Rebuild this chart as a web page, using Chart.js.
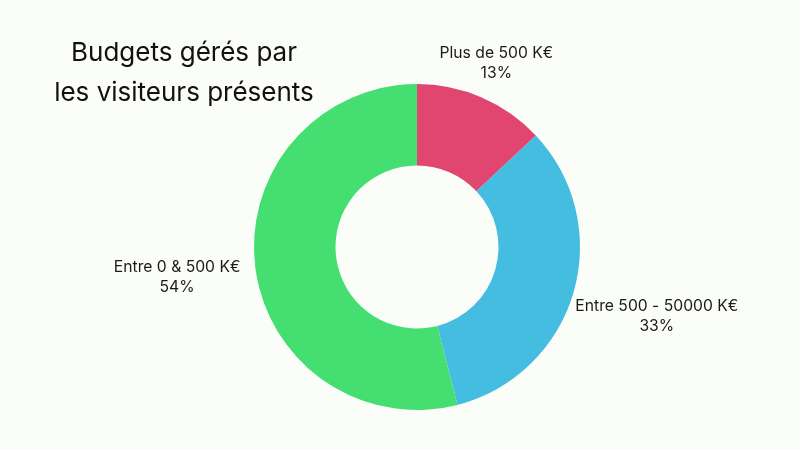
<!DOCTYPE html>
<html lang="fr">
<head>
<meta charset="utf-8">
<title>Budgets gérés par les visiteurs présents</title>
<script src="https://cdn.jsdelivr.net/npm/chart.js@4.4.1/dist/chart.umd.min.js"></script>
<style>
    html, body {
        margin: 0;
        padding: 0;
        background: #fbfdf9;
    }
    #wrap {
        position: relative;
        width: 800px;
        height: 450px;
    }
    #title {
        position: absolute;
        left: 34px;
        top: 32px;
        width: 300px;
        margin: 0;
        text-align: center;
        font-family: Inter, sans-serif;
        font-weight: 400;
        font-size: 26px;
        line-height: 40px;
        color: #111;
    }
</style>
</head>
<body>
<div id="wrap">
    <canvas id="budgetChart" width="800" height="450"></canvas>
    <h1 id="title">Budgets gérés par<br>les visiteurs présents</h1>
</div>
<script>
const categories = ['Plus de 500 K€', 'Entre 500 - 50000 K€', 'Entre 0 & 500 K€'];
const shares = [13, 33, 54];
const sliceColors = ['#e0466f', '#45bde0', '#45df71'];

// Draws "label / xx%" outside each slice, along its middle angle
const outsideLabels = {
    id: 'outsideLabels',
    afterDatasetsDraw(chart) {
        const ctx = chart.ctx;
        const meta = chart.getDatasetMeta(0);
        const lineH = 20;
        ctx.save();
        ctx.font = '15.7px Inter, sans-serif';
        ctx.fillStyle = '#1a1a1a';
        ctx.textAlign = 'center';
        ctx.textBaseline = 'middle';
        meta.data.forEach(function(arc, i) {
            const p = arc.getProps(['x', 'y', 'startAngle', 'endAngle', 'outerRadius'], true);
            const mid = (p.startAngle + p.endAngle) / 2;
            const dx = Math.cos(mid);
            const dy = Math.sin(mid);
            const lines = [categories[i], shares[i] + '%'];
            const w = Math.max.apply(null, lines.map(function(t) { return ctx.measureText(t).width; }));
            const h = lines.length * lineH;
            const push = Math.min(
                Math.abs(dx) > 0.001 ? (w / 2) / Math.abs(dx) : Infinity,
                Math.abs(dy) > 0.001 ? (h / 2) / Math.abs(dy) : Infinity
            );
            const dist = p.outerRadius + 15 + push;
            const cx = p.x + dx * dist;
            const cy = p.y + dy * dist;
            lines.forEach(function(t, k) {
                ctx.fillText(t, cx, cy - h / 2 + lineH / 2 + k * lineH);
            });
        });
        ctx.restore();
    }
};

document.addEventListener('DOMContentLoaded', function() {
    const ctx = document.getElementById('budgetChart');

    new Chart(ctx, {
        type: 'doughnut',
        data: {
            labels: categories,
            datasets: [{
                data: shares,
                backgroundColor: sliceColors,
                borderWidth: 0
            }]
        },
        options: {
            responsive: false,
            animation: false,
            cutout: '50%',
            layout: {
                padding: { top: 84, bottom: 40, left: 254, right: 220 }
            },
            plugins: {
                legend: { display: false },
                tooltip: { enabled: false }
            }
        },
        plugins: [outsideLabels]
    });
});
</script>
</body>
</html>
